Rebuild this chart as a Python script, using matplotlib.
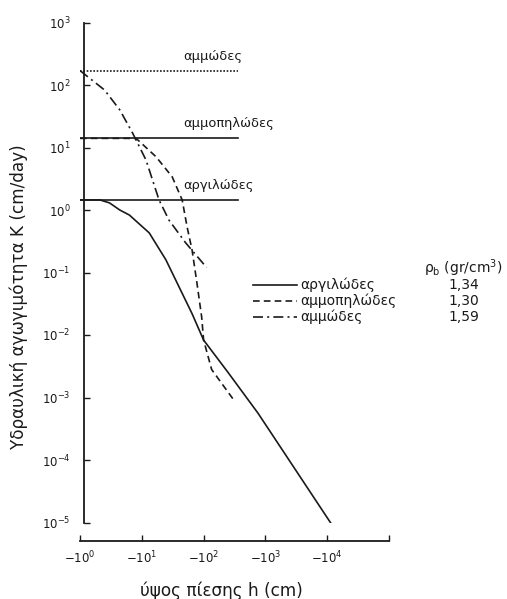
import matplotlib
matplotlib.use("Agg")
import matplotlib.pyplot as plt
from matplotlib.lines import Line2D

plt.rcParams['font.family'] = ['DejaVu Sans']

# pressure head |h| (cm) and hydraulic conductivity K (cm/day)
h_clay = [1, 2.1, 3.0, 4.4, 6.3, 13.2, 24.5, 40, 65, 100, 250, 760, 12000]
k_clay = [1.45, 1.45, 1.3, 1.0, 0.83, 0.43, 0.16, 0.059, 0.022, 0.0083, 0.0025, 0.00056, 0.0000091]

h_loam = [1, 4, 8.1, 17, 31, 45, 54, 65, 78, 93, 100, 135, 324]
k_loam = [14, 14, 14, 7.1, 3.4, 1.45, 0.54, 0.23, 0.068, 0.0195, 0.0083, 0.0028, 0.00085]

h_sand = [1, 2.5, 4.4, 7.1, 11.7, 19, 27.5, 51, 112]
k_sand = [170, 83, 40, 17, 6.3, 1.45, 0.69, 0.30, 0.12]

# saturated conductivity levels
ks_names = ['αμμώδες', 'αμμοπηλώδες', 'αργιλώδες']
ks_values = [170, 14, 1.45]
ks_end = 355

soil_names = ['αργιλώδες', 'αμμοπηλώδες', 'αμμώδες']
bulk_density = ['1,34', '1,30', '1,59']

x_ticks = [1, 10, 100, 1000, 10000, 100000]
x_labels = [r'$-10^{0}$', r'$-10^{1}$', r'$-10^{2}$', r'$-10^{3}$', r'$-10^{4}$', '']
y_ticks = [1e-5, 1e-4, 1e-3, 1e-2, 1e-1, 1, 10, 100, 1000]
y_labels = [r'$10^{-5}$', r'$10^{-4}$', r'$10^{-3}$', r'$10^{-2}$', r'$10^{-1}$',
            r'$10^{0}$', r'$10^{1}$', r'$10^{2}$', r'$10^{3}$']

W, H = 507, 599
fig = plt.figure(figsize=(W / 100, H / 100), dpi=100)
ax = fig.add_axes([80 / W, 1 - 522.5 / H, 309 / W, 500 / H])

ink = '#1a1a1a'
lw = 1.2

ax.plot(h_clay, k_clay, color=ink, lw=lw, linestyle='-')
ax.plot(h_loam, k_loam, color=ink, lw=lw, linestyle=(0, (4, 2.5)))
ax.plot(h_sand, k_sand, color=ink, lw=lw, linestyle=(0, (6, 2.5, 1.2, 2.5)))

styles = [(0, (1, 1)), '-', '-']
for name, val, st in zip(ks_names, ks_values, styles):
    ax.plot([1, ks_end], [val, val], color=ink, lw=lw, linestyle=st)
    ax.text(46, val * 1.7, name, fontsize=9.4, color=ink, ha='left', va='center')

ax.set_xscale('log')
ax.set_yscale('log')
ax.set_xlim(1, 1e5)
ax.set_ylim(1e-5, 1e3)
ax.set_xticks(x_ticks)
ax.set_xticklabels(x_labels)
ax.set_yticks(y_ticks)
ax.set_yticklabels(y_labels)
ax.minorticks_off()
ax.tick_params(direction='in', length=4, width=1, colors=ink, labelsize=8.5)
ax.tick_params(axis='x', pad=6.5)
ax.tick_params(axis='y', pad=10)

for s in ['top', 'right']:
    ax.spines[s].set_visible(False)
ax.spines['bottom'].set_position(('outward', 13))
ax.spines['left'].set_position(('outward', -3))
for s in ['bottom', 'left']:
    ax.spines[s].set_linewidth(1.3)
    ax.spines[s].set_color(ink)

ax.set_ylabel('Υδραυλική αγωγιμότητα K (cm/day)', fontsize=12.2, color=ink)
ax.set_xlabel('ύψος πίεσης h (cm)', fontsize=12.2, color=ink)
ax.yaxis.set_label_coords(-0.168, 0.451)
ax.xaxis.set_label_coords(0.456, -0.119)


def fx(px):
    return px / W


def fy(py):
    return 1 - py / H


# legend drawn by hand: line sample, name, bulk density
fig.text(fx(424), fy(268), r'ρ$_\mathrm{b}$ (gr/cm$^3$)', fontsize=10, color=ink, va='center')
leg_styles = ['-', (0, (4, 2.5)), (0, (6, 2.5, 1.2, 2.5))]
rows = [285, 301, 317]
for name, rho, st, py in zip(soil_names, bulk_density, leg_styles, rows):
    fig.add_artist(Line2D([fx(253), fx(297)], [fy(py), fy(py)], color=ink, lw=lw, linestyle=st))
    fig.text(fx(300), fy(py), name, fontsize=10, color=ink, va='center')
    fig.text(fx(448), fy(py), rho, fontsize=10, color=ink, va='center')

fig.savefig('out.png', dpi=100)
